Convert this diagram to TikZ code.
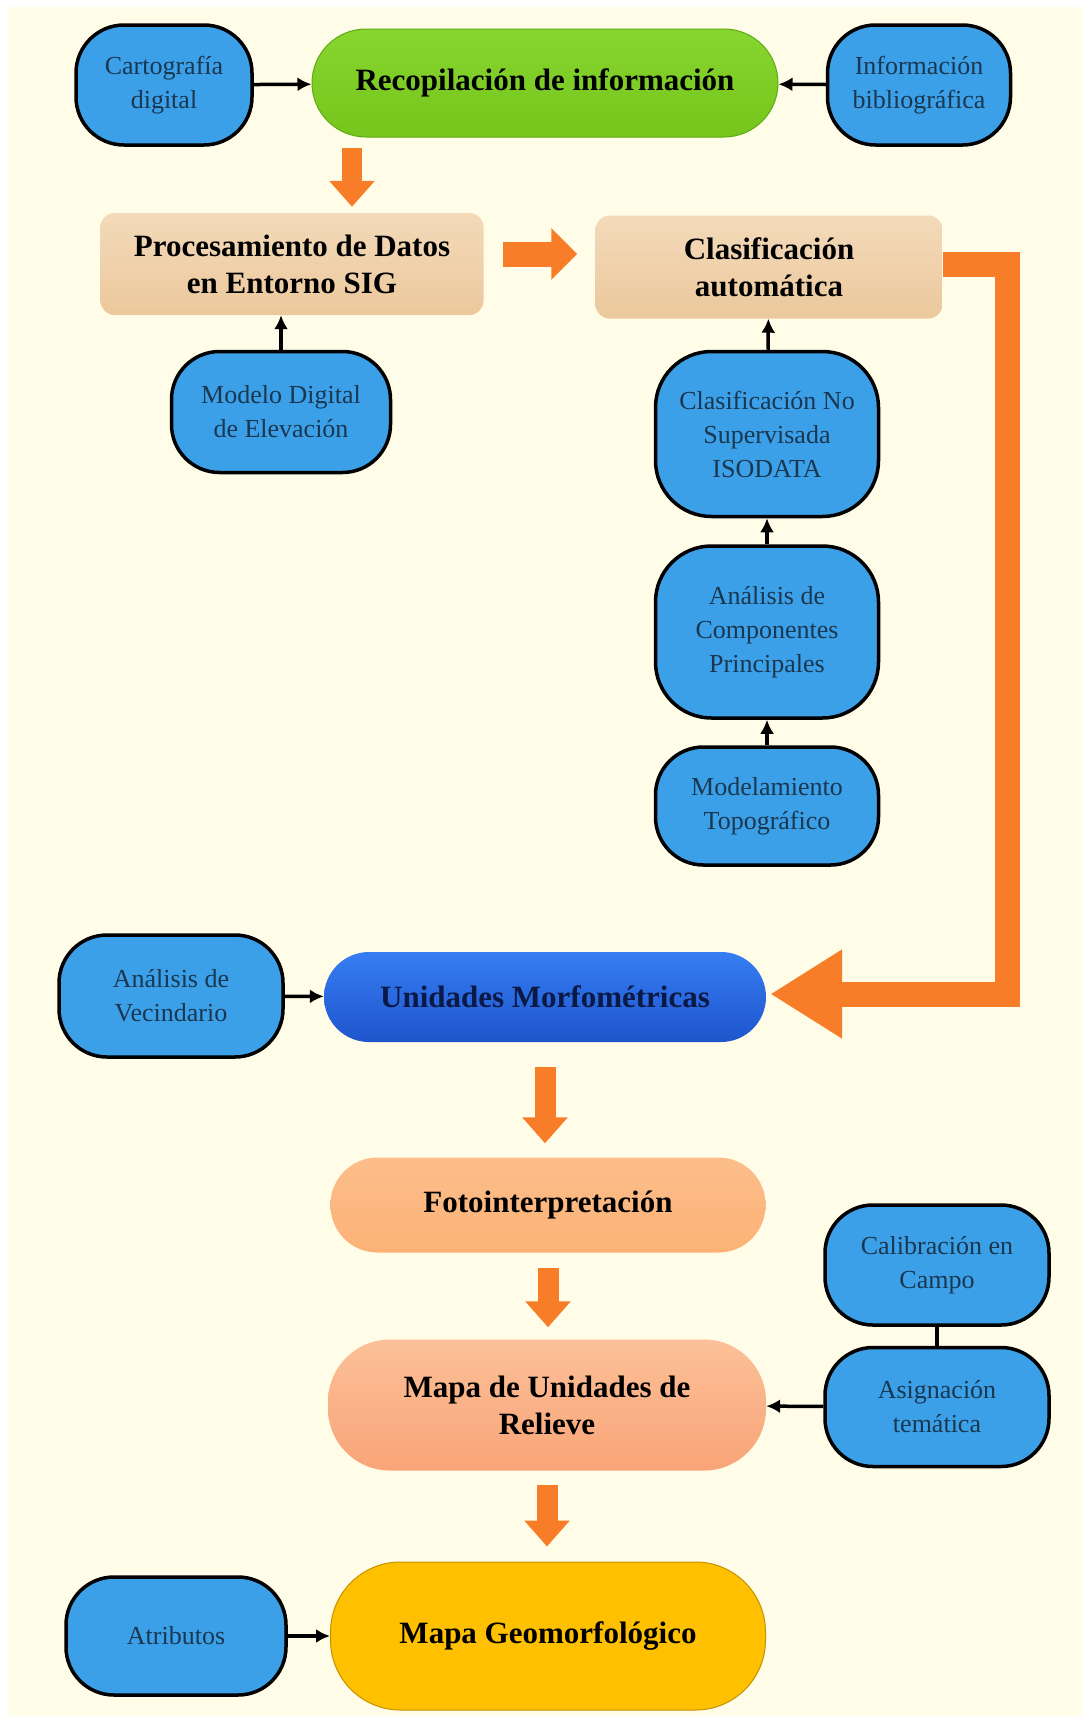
\documentclass[tikz,border=0pt]{standalone}
\usepackage{fontspec}
\setmainfont{Liberation Serif}
\usepackage{tikz}
\usetikzlibrary{arrows.meta,positioning}
\definecolor{bgcream}{RGB}{255,253,232}
\definecolor{boxblue}{RGB}{60,160,232}
\definecolor{boxtext}{RGB}{25,55,80}
\definecolor{recgreen}{RGB}{125,210,30}
\definecolor{recgreendk}{RGB}{95,170,20}
\definecolor{tantop}{RGB}{243,218,186}
\definecolor{tanbot}{RGB}{236,200,156}
\definecolor{unitop}{RGB}{55,125,242}
\definecolor{unibot}{RGB}{30,85,205}
\definecolor{unitext}{RGB}{10,25,70}
\definecolor{fotoorange}{RGB}{252,178,118}
\definecolor{salmontop}{RGB}{252,192,152}
\definecolor{salmonbot}{RGB}{249,164,120}
\definecolor{geogold}{RGB}{255,192,0}
\definecolor{geogolddk}{RGB}{200,145,0}
\definecolor{arrorange}{RGB}{248,125,40}

\begin{document}
\begin{tikzpicture}[x=1pt,y=-1pt,
blk/.style={draw=black,line width=3.5pt,fill=boxblue,rounded corners=48pt,align=center,text=boxtext,
  font=\fontsize{26}{34}\selectfont,inner sep=0pt,minimum width=222pt},
ttl/.style={align=center,font=\fontsize{31}{37}\selectfont\bfseries,inner sep=0pt,text=black},
tanbox/.style={ttl,rounded corners=14pt,top color=tantop,bottom color=tanbot,minimum height=102pt},
arr/.style={-{Latex[length=14pt,width=14pt]},line width=3.5pt},
oarr/.style={draw=arrorange,line width=21pt,-{Triangle[length=26pt,width=44pt]},shorten <=12pt,shorten >=10pt}]
\useasboundingbox (0,0) rectangle (1082,1716);
\fill[white] (0,0) rectangle (1082,1716);
\fill[bgcream] (8,7) rectangle (1082,1716);

% top row
\node[blk,minimum width=176pt,minimum height=120pt] (cart) at (164,85) {Cartografía\\digital};
\node[ttl,draw=recgreendk,line width=1pt,top color=recgreen!92!white,bottom color=recgreen!94!black,
  rounded corners=54pt,minimum width=466pt,minimum height=108pt] (recop) at (545,83) {Recopilación de información};
\node[blk,minimum width=183pt,minimum height=120pt] (info) at (919,85) {Información\\bibliográfica};

% procesamiento y clasificacion
\node[tanbox,minimum width=383pt] (proc) at (292,264) {Procesamiento de Datos\\en Entorno SIG};
\node[tanbox,minimum width=347pt,minimum height=103pt] (clas) at (769,267) {Clasificación\\automática};
\node[blk,minimum width=219pt,minimum height=121pt] (mde) at (281,412) {Modelo Digital\\de Elevación};
\node[blk,minimum width=223pt,minimum height=165pt,rounded corners=56pt] (nosup) at (767,434) {Clasificación No\\Supervisada\\ISODATA};
\node[blk,minimum width=223pt,minimum height=172pt,rounded corners=56pt] (acp) at (767,632) {Análisis de\\Componentes\\Principales};
\node[blk,minimum width=223pt,minimum height=118pt] (topo) at (767,806) {Modelamiento\\Topográfico};

% unidades
\node[blk,minimum width=224pt,minimum height=122pt] (vecin) at (171,996) {Análisis de\\Vecindario};
\node[ttl,text=unitext,top color=unitop,bottom color=unibot,rounded corners=45pt,
  minimum width=442pt,minimum height=90pt] (unid) at (545,997) {Unidades Morfométricas};

% fotointerpretacion y mapas
\node[ttl,top color=fotoorange!85!white,bottom color=fotoorange,rounded corners=47pt,
  minimum width=435pt,minimum height=95pt] (foto) at (548,1205) {Fotointerpretación};
\node[blk,minimum width=224pt,minimum height=120pt] (calib) at (937,1265) {Calibración en\\Campo};
\node[ttl,top color=salmontop,bottom color=salmonbot,rounded corners=62pt,
  minimum width=438pt,minimum height=131pt] (mapaur) at (547,1405) {Mapa de Unidades de\\Relieve};
\node[blk,minimum width=224pt,minimum height=119pt] (asign) at (937,1407) {Asignación\\temática};
\node[ttl,fill=geogold,draw=geogolddk,line width=1pt,rounded corners=70pt,
  minimum width=435pt,minimum height=148pt] (geo) at (548,1636) {Mapa Geomorfológico};
\node[blk,minimum width=220pt,minimum height=118pt] (atrib) at (176,1636) {Atributos};

% black arrows
\draw[arr] (cart) -- (recop);
\draw[arr] (info) -- (recop);
\draw[arr] (mde.north) -- (mde.north |- proc.south);
\draw[arr] (nosup) -- (clas);
\draw[arr] (acp) -- (nosup);
\draw[arr] (topo) -- (acp);
\draw[arr] (vecin) -- (unid);
\draw[line width=3.5pt] (calib) -- (asign);
\draw[arr] (asign) -- (mapaur);
\draw[arr] (atrib) -- (geo);

% orange arrows
\draw[oarr,line width=20pt,shorten <=10pt,shorten >=6pt] ([xshift=60pt]proc.north |- recop.south) -- ([xshift=60pt]proc.north);
\draw[oarr,line width=25pt,-{Triangle[length=26pt,width=50pt]},shorten <=19pt,shorten >=18pt]
  ([yshift=10pt]proc.east) -- ([yshift=10pt]proc.east -| clas.west);
\coordinate (rbar) at (1007,600);
\draw[draw=arrorange,line width=25pt,line join=miter,-{Triangle[length=72pt,width=84pt]},shorten >=4pt]
  ([yshift=3pt]clas.east) -| (rbar) |- ([yshift=3pt]unid.east);
\draw[oarr,shorten <=25pt,shorten >=14pt] (unid.south) -- (unid.south |- foto.north);
\draw[oarr,shorten <=15pt,shorten >=12pt] (foto.south) -- (foto.south |- mapaur.north);
\draw[oarr,shorten <=14pt,shorten >=15pt] (mapaur.south) -- (mapaur.south |- geo.north);
\end{tikzpicture}
\end{document}
